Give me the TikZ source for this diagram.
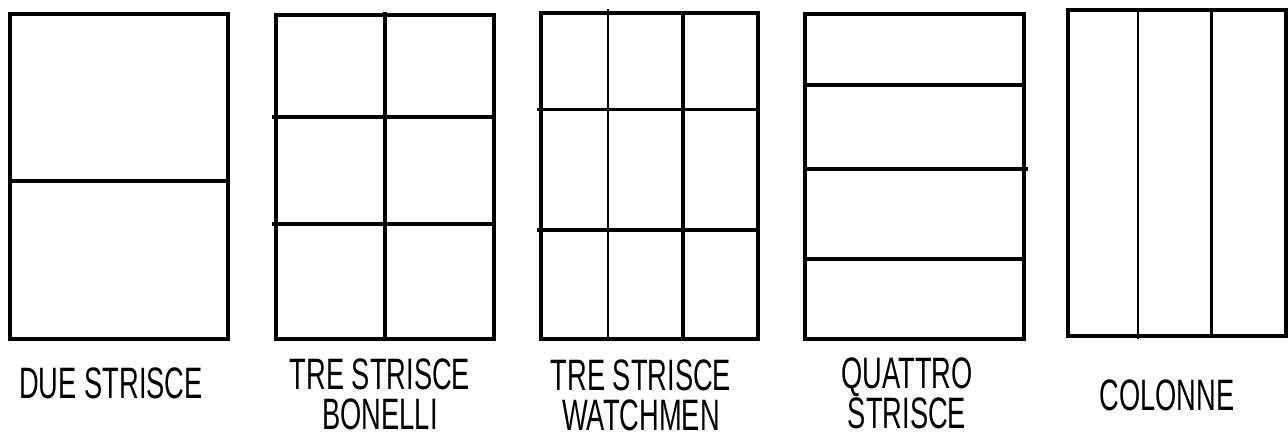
\documentclass[tikz,border=0pt]{standalone}
\usepackage{fontspec}
\setmainfont{Liberation Sans}
\usepackage{tikz}
\usetikzlibrary{positioning}

\begin{document}
\begin{tikzpicture}[
    x=1pt, y=-1pt,
    panelFrame/.style={draw=black, line width=4pt, line cap=round},
    gutterLine/.style={draw=black, line width=4pt},
    thinGutter/.style={draw=black, line width=2.2pt},
    captionText/.style={font=\fontsize{44}{40}\selectfont, xscale=0.62, align=center, inner sep=0pt}
]
    \useasboundingbox (0,0) rectangle (1288,441);

    % Due strisce
    \draw[panelFrame] (10,14) rectangle (228,339);
    \draw[gutterLine] (10,181) -- (228,181);

    % Tre strisce Bonelli
    \draw[panelFrame] (276,15) rectangle (494,339);
    \draw[gutterLine] (385,12) -- (385,339);
    \draw[gutterLine] (272,117) -- (494,117);
    \draw[gutterLine] (272,224) -- (494,224);

    % Tre strisce Watchmen
    \draw[panelFrame] (541,13) rectangle (758,339);
    \draw[thinGutter] (608,9) -- (608,339);
    \draw[gutterLine] (683,13) -- (683,339);
    \draw[thinGutter, line width=3pt] (537,110) -- (758,110);
    \draw[gutterLine] (537,230) -- (758,230);

    % Quattro strisce
    \draw[panelFrame] (805,14) rectangle (1024,339);
    \draw[gutterLine] (803,85) -- (1024,85);
    \draw[gutterLine] (805,169) -- (1028,169);
    \draw[gutterLine] (805,259) -- (1024,259);

    % Colonne
    \draw[panelFrame] (1068,10) rectangle (1286,336);
    \draw[thinGutter] (1138,10) -- (1138,339);
    \draw[gutterLine, line width=3pt] (1211,10) -- (1211,336);

    % Captions
    \node[captionText] (due)      at (111,383) {DUE STRISCE};
    \node[captionText] (bonelli)  at (380,394) {TRE STRISCE\\BONELLI};
    \node[captionText] (watchmen) at (641,395) {TRE STRISCE\\WATCHMEN};
    \node[captionText] (quattro)  at (907,393) {QUATTRO\\STRISCE};
    \node[captionText] (colonne)  at (1167,395) {COLONNE};
\end{tikzpicture}
\end{document}
